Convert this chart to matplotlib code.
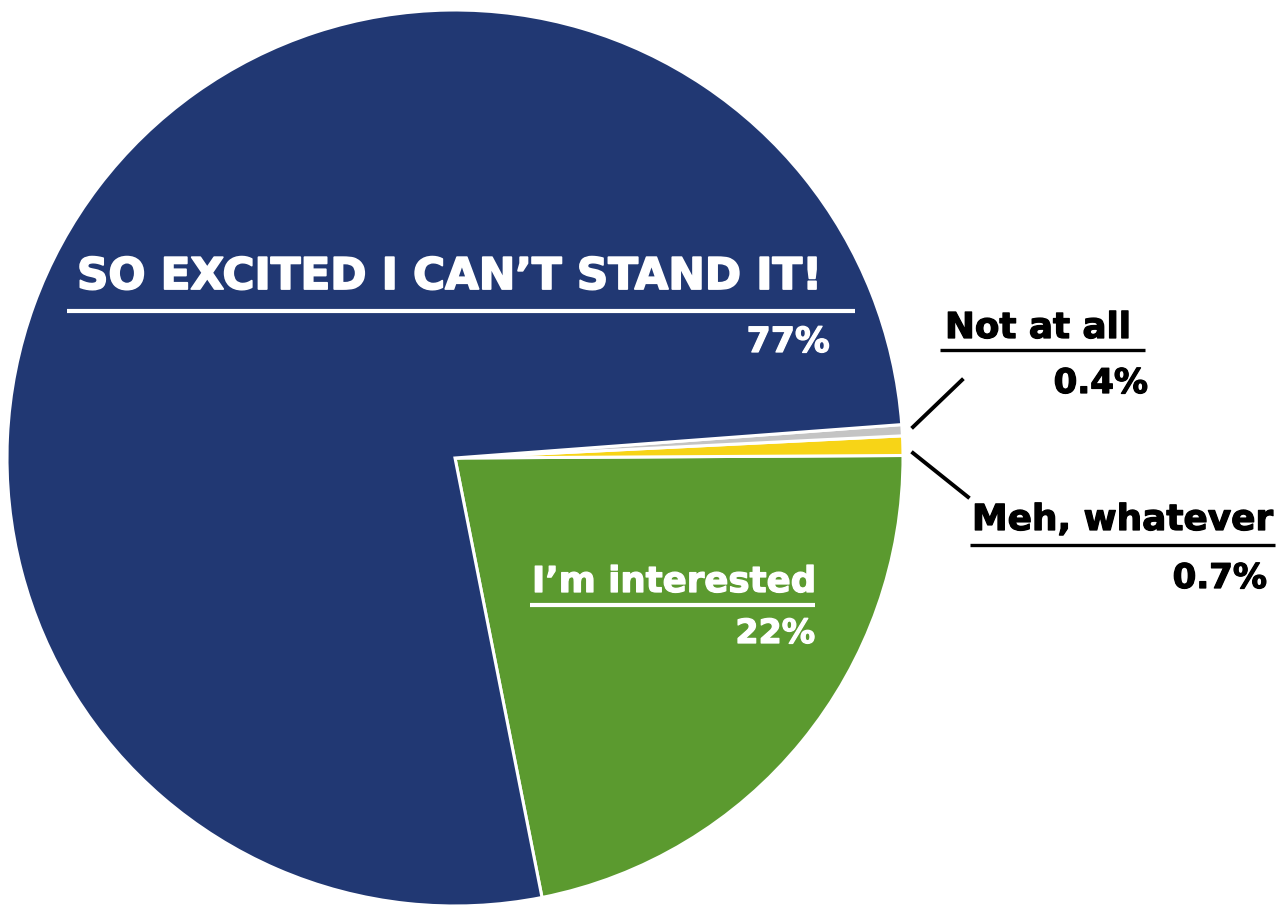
import matplotlib
matplotlib.use("Agg")
import matplotlib.pyplot as plt
import matplotlib.patheffects as pe

# Survey responses (share of respondents, %)
categories = ["I\u2019m interested", "Meh, whatever", "Not at all", "SO EXCITED I CAN\u2019T STAND IT!"]
values = [22, 0.7, 0.4, 77]
pct_labels = ["22%", "0.7%", "0.4%", "77%"]
colors = ["#5b9a2f", "#f7d417", "#c4c4c4", "#213873"]

W, H = 1281, 909
fig = plt.figure(figsize=(W / 100, H / 100), dpi=100)
ax = fig.add_axes([0, 0, 1, 1])


def Y(y):
    """Convert a top-down pixel row to the axes' bottom-up coordinate."""
    return H - y


ax.pie(values, colors=colors, startangle=-78.8, counterclock=True,
       center=(455, Y(458)), radius=448,
       wedgeprops=dict(edgecolor="white", linewidth=2.2))
ax.set_xlim(0, W)
ax.set_ylim(0, H)
ax.set_aspect("equal")
ax.axis("off")

FONT = "DejaVu Sans"


def label(x, y, s, color, size, ha, heavy=0.9):
    ax.text(x, Y(y), s, color=color, fontsize=size, fontweight="bold",
            family=FONT, ha=ha, va="baseline",
            path_effects=[pe.withStroke(linewidth=heavy, foreground=color)])


def rule(x0, x1, y, color, lw):
    ax.plot([x0, x1], [Y(y), Y(y)], color=color, lw=lw, solid_capstyle="butt")


# Big slice label
label(77, 289, categories[3], "white", 31.4, "left", heavy=1.3)
rule(67, 855, 311, "white", 3)
label(830, 352, pct_labels[3], "white", 25, "right")

# Green slice label
label(532, 592, categories[0], "white", 25.6, "left")
rule(530, 815, 605, "white", 3)
label(815, 643, pct_labels[0], "white", 24, "right")

# Small slices, labelled outside with leader lines
label(945, 338, categories[2], "black", 25.7, "left")
rule(940, 1145, 350, "black", 2.4)
label(1148, 393, pct_labels[2], "black", 24.5, "right")
ax.plot([913, 962], [Y(427), Y(380)], color="black", lw=2.8)

label(972, 530, categories[1], "black", 25.8, "left")
rule(970, 1275, 545, "black", 2.4)
label(1267, 588, pct_labels[1], "black", 24.5, "right")
ax.plot([913, 968], [Y(453), Y(497)], color="black", lw=2.8)

fig.savefig("out.png", dpi=100, facecolor="white")
